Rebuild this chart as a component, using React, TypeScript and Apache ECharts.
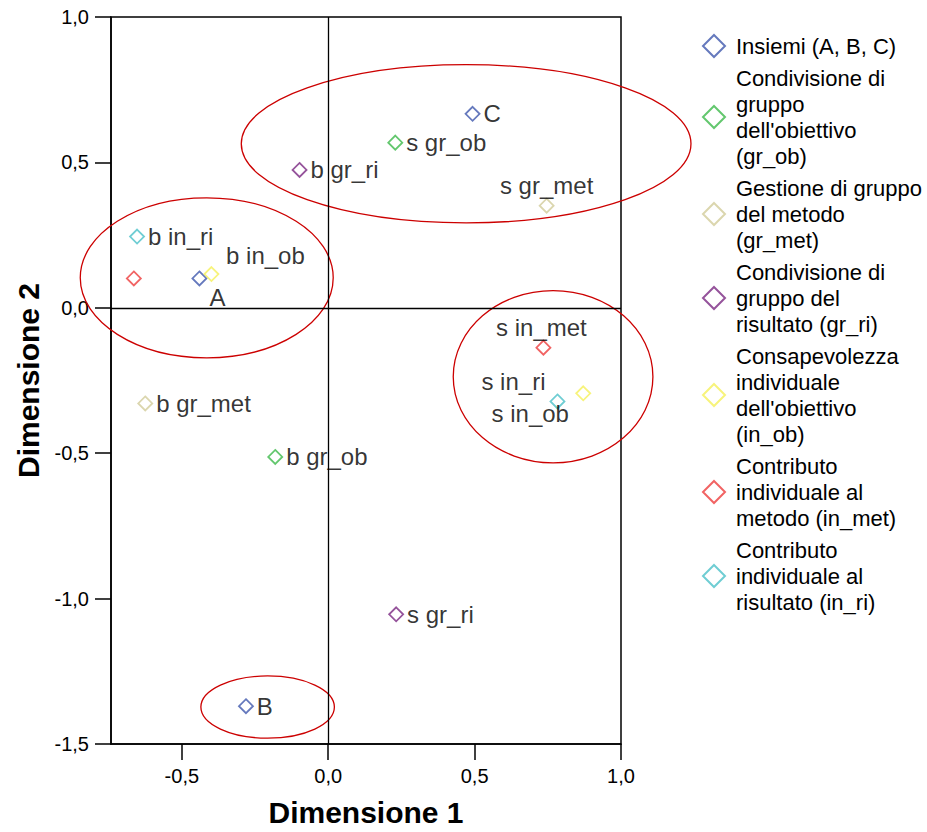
import React, { useEffect, useRef } from "react";
import * as echarts from "echarts";

// Legend groups
const groupNames = [
  "Insiemi (A, B, C)",
  "Condivisione di\ngruppo\ndell'obiettivo\n(gr_ob)",
  "Gestione di gruppo\ndel metodo\n(gr_met)",
  "Condivisione di\ngruppo del\nrisultato (gr_ri)",
  "Consapevolezza\nindividuale\ndell'obiettivo\n(in_ob)",
  "Contributo\nindividuale al\nmetodo (in_met)",
  "Contributo\nindividuale al\nrisultato (in_ri)",
];
const groupColors = ["#3E58AC", "#3CB94A", "#D2CC9A", "#7B2882", "#F5F05A", "#EE3C3C", "#4BC0C8"];

// Points
const pointLabels = ["A", "B", "C", "b gr_ob", "s gr_ob", "b gr_met", "s gr_met", "b gr_ri", "s gr_ri", "b in_ob", "s in_ob", "", "s in_met", "b in_ri", "s in_ri"];
const pointGroup = [0, 0, 0, 1, 1, 2, 2, 3, 3, 4, 4, 5, 5, 6, 6];
const dim1 = [-0.44, -0.281, 0.493, -0.181, 0.229, -0.625, 0.746, -0.098, 0.232, -0.399, 0.871, -0.664, 0.735, -0.653, 0.783];
const dim2 = [0.101, -1.37, 0.667, -0.513, 0.568, -0.329, 0.351, 0.474, -1.054, 0.116, -0.294, 0.101, -0.137, 0.245, -0.322];

// Highlight ellipses (data units)
const ellipseCx = [0.471, -0.415, 0.768, -0.207];
const ellipseCy = [0.564, 0.103, -0.237, -1.373];
const ellipseRx = [0.768, 0.432, 0.341, 0.228];
const ellipseRy = [0.272, 0.275, 0.296, 0.107];

const xTicks = [-0.5, 0, 0.5, 1.0];

const labelPlacement: Record<string, { position: string; offset: number[] }> = {
  A: { position: "bottom", offset: [18, -1] },
  "s gr_met": { position: "top", offset: [0, 0] },
  "s in_met": { position: "top", offset: [-2, 0] },
  "s in_ri": { position: "top", offset: [-44, 0] },
  "s in_ob": { position: "bottom", offset: [-53, 0] },
  "b in_ob": { position: "top", offset: [54, 1] },
};

const FONT = "'Liberation Sans', Arial, sans-serif";
const fmt = (v: number) => v.toFixed(1).replace(".", ",");

export default function App() {
  const ref = useRef<HTMLDivElement>(null);
  useEffect(() => {
    if (!ref.current) return;
    const chart = echarts.init(ref.current, undefined, { renderer: "svg" });

    const scatterSeries = groupNames.map((name, gi) => {
      const data = pointLabels
        .map((lab, i) => ({ lab, i }))
        .filter(({ i }) => pointGroup[i] === gi)
        .map(({ lab, i }) => {
          const pl = labelPlacement[lab];
          return {
            value: [dim1[i], dim2[i]],
            name: lab,
            label: lab
              ? {
                  show: true,
                  position: pl ? pl.position : "right",
                  offset: pl ? pl.offset : [0, 0],
                  distance: pl ? 0 : 3,
                }
              : { show: false },
          };
        });
      return {
        type: "scatter",
        name,
        symbol: "diamond",
        symbolSize: 14,
        itemStyle: { color: "#ffffff", borderColor: groupColors[gi], borderWidth: 1.8 },
        label: {
          show: true,
          formatter: (p: any) => p.name,
          color: "#000",
          fontSize: 24,
          fontFamily: FONT,
        },
        emphasis: { disabled: true },
        data,
        z: 5,
        ...(gi === 0
          ? {
              markLine: {
                silent: true,
                symbol: "none",
                label: { show: false },
                lineStyle: { color: "#000", width: 1.3, type: "solid" },
                data: [{ xAxis: 0 }, { yAxis: 0 }],
              },
            }
          : {}),
      };
    });

    const ellipseSeries = {
      type: "custom",
      name: "ellipses",
      clip: false,
      silent: true,
      z: 3,
      data: ellipseCx.map((cx, i) => [cx, ellipseCy[i], ellipseRx[i], ellipseRy[i]]),
      encode: { x: 0, y: 1 },
      renderItem: (_params: any, api: any) => {
        const c = api.coord([api.value(0), api.value(1)]);
        const s = api.size([api.value(2), api.value(3)]);
        return {
          type: "ellipse",
          shape: { cx: c[0], cy: c[1], rx: s[0], ry: s[1] },
          style: { fill: "none", stroke: "#CC0000", lineWidth: 1.3 },
        };
      },
    };

    chart.setOption({
      animation: false,
      backgroundColor: "#ffffff",
      textStyle: { fontFamily: FONT },
      grid: {
        left: 111,
        right: 306,
        top: 17,
        bottom: 88,
        show: true,
        borderColor: "#000",
        borderWidth: 1.5,
        outerBoundsMode: "none",
        containLabel: false,
      },
      legend: {
        orient: "vertical",
        left: 697,
        top: 28,
        itemWidth: 22,
        itemHeight: 22,
        itemGap: 6,
        icon: "diamond",
        selectedMode: false,
        textStyle: { fontSize: 22, lineHeight: 26, color: "#000", fontFamily: FONT, padding: [0, 0, 0, 6] },
        data: groupNames.map((n, i) => ({
          name: n,
          icon: "diamond",
          itemStyle: { color: "#ffffff", borderColor: groupColors[i], borderWidth: 2 },
        })),
      },
      xAxis: {
        type: "value",
        min: -0.742,
        max: 1.0,
        name: "Dimensione 1",
        nameLocation: "middle",
        nameGap: 53,
        nameTextStyle: { fontSize: 30, fontWeight: "bold", color: "#000", fontFamily: FONT },
        axisLine: { show: true, onZero: false, lineStyle: { color: "#000", width: 1.5 } },
        axisTick: { show: true, length: 16, customValues: xTicks, lineStyle: { color: "#000", width: 1.5 } },
        axisLabel: { customValues: xTicks, formatter: fmt, fontSize: 20, color: "#000", margin: 22, fontFamily: FONT },
        splitLine: { show: false },
      },
      yAxis: {
        type: "value",
        min: -1.5,
        max: 1.0,
        interval: 0.5,
        name: "Dimensione 2",
        nameLocation: "middle",
        nameGap: 57,
        nameTextStyle: { fontSize: 30, fontWeight: "bold", color: "#000", fontFamily: FONT },
        axisLine: { show: true, onZero: false, lineStyle: { color: "#000", width: 1.5 } },
        axisTick: { show: true, length: 16, lineStyle: { color: "#000", width: 1.5 } },
        axisLabel: { formatter: fmt, fontSize: 20, color: "#000", margin: 22, fontFamily: FONT },
        splitLine: { show: false },
      },
      series: [ellipseSeries, ...scatterSeries],
    });
    return () => chart.dispose();
  }, []);
  return <div ref={ref} style={{ width: 927, height: 832, position: "absolute", left: 0, top: 0 }} />;
}
